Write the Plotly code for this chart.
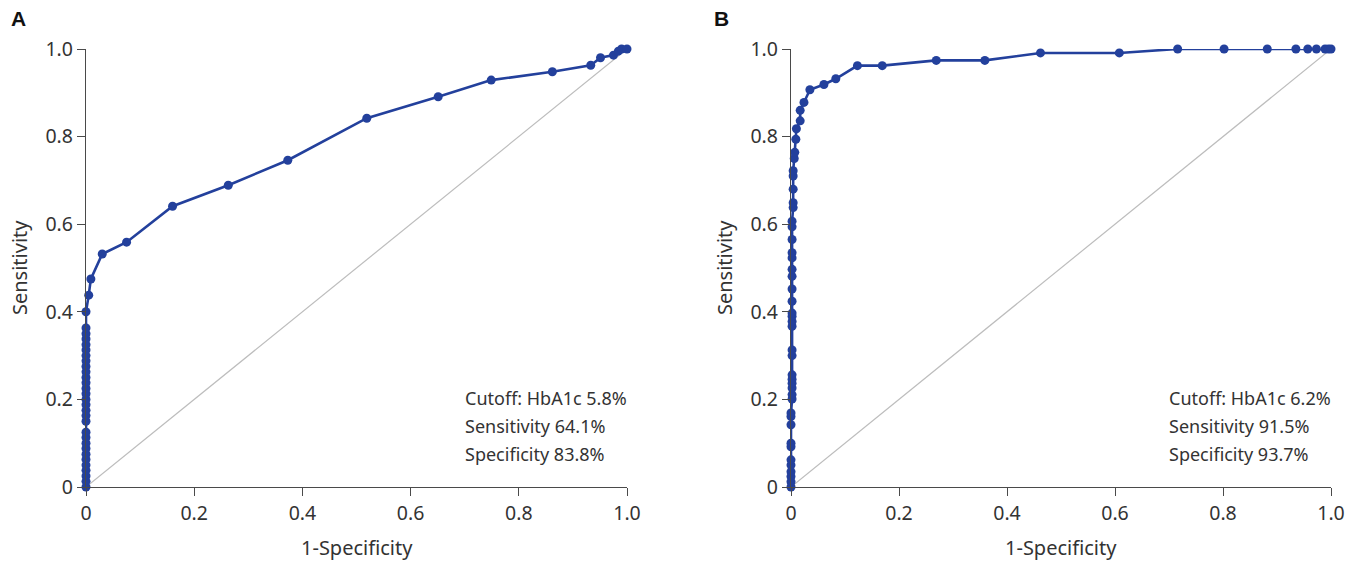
import plotly.graph_objects as go

W, H = 1361, 562

# ---------------- Data ----------------
# Panel A: ROC curve (HbA1c cutoff 5.8%)
fpr_a = [0, 0, 0, 0, 0, 0, 0, 0, 0, 0, 0, 0, 0, 0, 0, 0, 0, 0, 0, 0, 0, 0, 0, 0, 0, 0, 0, 0, 0, 0,
         0.005, 0.009, 0.030, 0.075, 0.160, 0.263, 0.373, 0.519, 0.651, 0.749, 0.862, 0.933,
         0.951, 0.975, 0.984, 0.990, 1.0]
tpr_a = [0, 0.013, 0.025, 0.038, 0.050, 0.063, 0.075, 0.088, 0.100, 0.113, 0.125, 0.150, 0.163,
         0.175, 0.188, 0.200, 0.213, 0.225, 0.238, 0.250, 0.263, 0.275, 0.288, 0.300, 0.313,
         0.325, 0.338, 0.350, 0.363, 0.400,
         0.438, 0.475, 0.532, 0.559, 0.641, 0.689, 0.746, 0.842, 0.891, 0.929, 0.948, 0.963,
         0.980, 0.986, 0.995, 1.0, 1.0]

# Panel B: ROC curve (HbA1c cutoff 6.2%)
fpr_b = [0, 0, 0, 0, 0, 0, 0, 0, 0, 0, 0,
         0.002, 0.002, 0.002, 0.002, 0.002, 0.002, 0.002, 0.002, 0.002, 0.002, 0.002, 0.002,
         0.002, 0.002, 0.002, 0.002, 0.002, 0.002, 0.002, 0.002, 0.002,
         0.004, 0.004, 0.004, 0.004, 0.004, 0.006, 0.007, 0.009, 0.010, 0.017, 0.017, 0.024,
         0.035, 0.061, 0.083, 0.123, 0.169, 0.269, 0.359, 0.462, 0.608, 0.716, 0.802, 0.882,
         0.935, 0.957, 0.973, 0.989, 0.995, 1.0]
tpr_b = [0, 0.012, 0.024, 0.035, 0.050, 0.062, 0.092, 0.100, 0.142, 0.161, 0.169,
         0.201, 0.211, 0.226, 0.237, 0.246, 0.256, 0.300, 0.313, 0.367, 0.378, 0.390, 0.397,
         0.424, 0.452, 0.481, 0.497, 0.523, 0.535, 0.565, 0.594, 0.607,
         0.638, 0.649, 0.680, 0.710, 0.722, 0.750, 0.764, 0.794, 0.818, 0.836, 0.860, 0.878,
         0.907, 0.919, 0.932, 0.962, 0.962, 0.974, 0.974, 0.991, 0.991, 1.0, 1.0, 1.0,
         1.0, 1.0, 1.0, 1.0, 1.0, 1.0]

ref_line = [0, 1]
tick_vals = [0, 0.2, 0.4, 0.6, 0.8, 1.0]
tick_text = ["0", "0.2", "0.4", "0.6", "0.8", "1.0"]

panel_labels = ["A", "B"]
stats_a = ["Cutoff: HbA1c 5.8%", "Sensitivity 64.1%", "Specificity 83.8%"]
stats_b = ["Cutoff: HbA1c 6.2%", "Sensitivity 91.5%", "Specificity 93.7%"]
x_title = "1-Specificity"
y_title = "Sensitivity"

# ---------------- Style ----------------
BLUE = "#23409c"
GREY = "#bdbdbd"
AXIS = "#4a4a4a"
TXT = "#333333"
FONT = "Liberation Sans, Arial, sans-serif"
FONT2 = "Noto Sans, Liberation Sans, sans-serif"

# pixel layout
ax_a = (86, 627)
ax_b = (791, 1331)
y_top, y_bot = 49, 487

fig = go.Figure()

for i, (fx, ty) in enumerate([(fpr_a, tpr_a), (fpr_b, tpr_b)]):
    xa = "x" if i == 0 else "x2"
    ya = "y" if i == 0 else "y2"
    fig.add_trace(go.Scatter(x=ref_line, y=ref_line, mode="lines",
                             line=dict(color=GREY, width=1.2), xaxis=xa, yaxis=ya,
                             hoverinfo="skip", showlegend=False, cliponaxis=False))
    fig.add_trace(go.Scatter(x=fx, y=ty, mode="lines+markers",
                             line=dict(color=BLUE, width=2.6),
                             marker=dict(color=BLUE, size=9),
                             xaxis=xa, yaxis=ya, showlegend=False, cliponaxis=False))

def xdom(px):
    return [px[0] / W, px[1] / W]

ydom = [1 - y_bot / H, 1 - y_top / H]

axis_common = dict(range=[0, 1], showgrid=False, zeroline=False, showline=True,
                   linecolor=AXIS, linewidth=1.3, ticks="outside", ticklen=8,
                   tickcolor=AXIS, tickwidth=1.3, tickvals=tick_vals, ticktext=tick_text,
                   tickfont=dict(family=FONT2, size=19.5, color=TXT), automargin=False)

fig.update_layout(
    width=W, height=H, margin=dict(l=0, r=0, t=0, b=0),
    paper_bgcolor="white", plot_bgcolor="white",
    xaxis=dict(domain=xdom(ax_a), anchor="y", **axis_common),
    yaxis=dict(domain=ydom, anchor="x", **axis_common),
    xaxis2=dict(domain=xdom(ax_b), anchor="y2", **axis_common),
    yaxis2=dict(domain=ydom, anchor="x2", **axis_common),
)

ann = []
for i, (ax, stats) in enumerate([(ax_a, stats_a), (ax_b, stats_b)]):
    xr = "x" if i == 0 else "x2"
    yr = "y" if i == 0 else "y2"
    # panel label
    ann.append(dict(text="<b>%s</b>" % panel_labels[i], xref="paper", yref="paper",
                    x=(18 if i == 0 else 722) / W, y=1 - 18 / H, xanchor="center", yanchor="middle",
                    showarrow=False, font=dict(family=FONT, size=21, color="#111111")))
    # axis titles
    ann.append(dict(text=x_title, xref=xr + " domain", yref="paper", x=0.5, y=1 - 547 / H,
                    xanchor="center", yanchor="middle", showarrow=False,
                    font=dict(family=FONT2, size=20, color=TXT)))
    ann.append(dict(text=y_title, xref="paper", yref=yr + " domain",
                    x=(ax[0] - 67) / W, y=0.5, xanchor="center", yanchor="middle",
                    textangle=-90, showarrow=False,
                    font=dict(family=FONT2, size=20, color=TXT)))
    # stats text
    for j, s in enumerate(stats):
        ann.append(dict(text=s, xref=xr, yref=yr, x=0.697, y=0.203 - 0.064 * j,
                        xanchor="left", yanchor="middle", showarrow=False,
                        font=dict(family=FONT2, size=18, color=TXT)))

fig.update_layout(annotations=ann)
fig.write_html("out.html", config={"displayModeBar": False},
               post_script="document.body.style.margin='0';document.body.style.overflow='hidden';")
